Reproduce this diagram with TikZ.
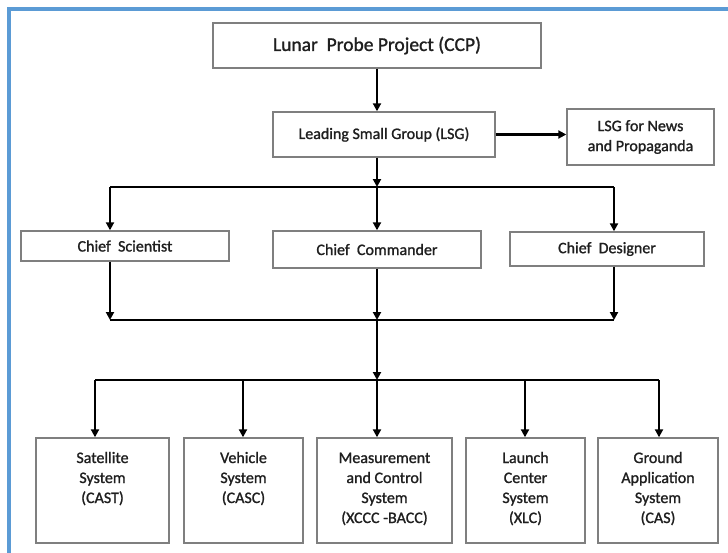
\documentclass[tikz,border=0pt]{standalone}
\usepackage{fontspec}
\setmainfont{Carlito}[FakeBold=1.2]
\usetikzlibrary{arrows.meta}
\definecolor{frameblue}{HTML}{5B9BD5}
\definecolor{boxgray}{HTML}{7F7F7F}
\definecolor{txt}{HTML}{1F1F1F}
\newcommand{\sysbox}[2]{\parbox[c][105pt][t]{#1}{\centering\rule{0pt}{25pt}#2}}
\begin{document}
\begin{tikzpicture}[x=1pt,y=-1pt,
  box/.style={draw=boxgray,line width=1.4pt,fill=white,inner sep=0pt,
    align=center,text=txt,font=\fontsize{16}{20}\selectfont},
  arr/.style={line width=2pt,-{Triangle[length=8pt,width=8pt]}},
  bus/.style={line width=2.8pt}]
\useasboundingbox (0,0) rectangle (728,552);
% blue page frame (right and bottom sides fall outside the page)
\begin{scope}
  \clip (0,0) rectangle (728,552);
  \draw[frameblue,line width=4pt] (9,9) rectangle (760,580);
\end{scope}

% top levels
\node[box,minimum width=328pt,minimum height=45pt,font=\fontsize{19.5}{22}\selectfont]
  (ccp) at (377,45.5) {Lunar\ \ Probe Project (CCP)};
\node[box,minimum width=222pt,minimum height=45pt] (lsg) at (384,134.5)
  {Leading Small Group (LSG)};
\node[box,minimum width=147pt,minimum height=56pt] (news) at (640.5,137)
  {LSG for News\\and Propaganda};

% chiefs
\node[box,minimum width=208pt,minimum height=30pt] (sci) at (125,246) {Chief\ \ Scientist};
\node[box,minimum width=208pt,minimum height=37pt] (cmd) at (377,249.5) {Chief\ \ Commander};
\node[box,minimum width=194pt,minimum height=34pt] (des) at (607,249) {Chief\ \ Designer};

% systems
\node[box] (sat) at (102.5,490.5) {\sysbox{133pt}{Satellite\\System\\(CAST)}};
\node[box] (veh) at (243.5,490.5) {\sysbox{119pt}{Vehicle\\System\\(CASC)}};
\node[box] (mea) at (384.5,490.5) {\sysbox{135pt}{Measurement\\and Control\\System\\(XCCC -BACC)}};
\node[box] (lau) at (525.5,490.5) {\sysbox{119pt}{Launch\\Center\\System\\(XLC)}};
\node[box] (gro) at (658,490.5) {\sysbox{120pt}{Ground\\Application\\System\\(CAS)}};

% bus junctions
\coordinate (b1l) at (110,187);
\coordinate (b1m) at (377,187);
\coordinate (b1r) at (614,187);
\coordinate (b2l) at (110,320);
\coordinate (b2m) at (377,320);
\coordinate (b2r) at (614,320);
\coordinate (b3a) at (95,380);
\coordinate (b3b) at (243,380);
\coordinate (b3c) at (377,380);
\coordinate (b3d) at (525,380);
\coordinate (b3e) at (659,380);

% connectors
\draw[arr] (ccp.south -| b1m) -- (lsg.north -| b1m);
\draw[arr,line width=2.6pt] (lsg.east) -- (news.west |- lsg.east);

\draw[bus] (b1l) -- (b1r);
\draw[arr] (lsg.south -| b1m) -- (b1m);
\draw[arr] (b1l) -- (sci.north -| b1l);
\draw[arr] (b1m) -- (cmd.north -| b1m);
\draw[arr] (b1r) -- (des.north -| b1r);

\draw[bus] (b2l) -- (b2r);
\draw[arr] (sci.south -| b2l) -- (b2l);
\draw[arr] (cmd.south -| b2m) -- (b2m);
\draw[arr] (des.south -| b2r) -- (b2r);
\draw[arr] (b2m) -- (b3c);

\draw[bus] (b3a) -- (b3e);
\draw[arr] (b3a) -- (sat.north -| b3a);
\draw[arr] (b3b) -- (veh.north -| b3b);
\draw[arr] (b3c) -- (mea.north -| b3c);
\draw[arr] (b3d) -- (lau.north -| b3d);
\draw[arr] (b3e) -- (gro.north -| b3e);
\end{tikzpicture}
\end{document}
